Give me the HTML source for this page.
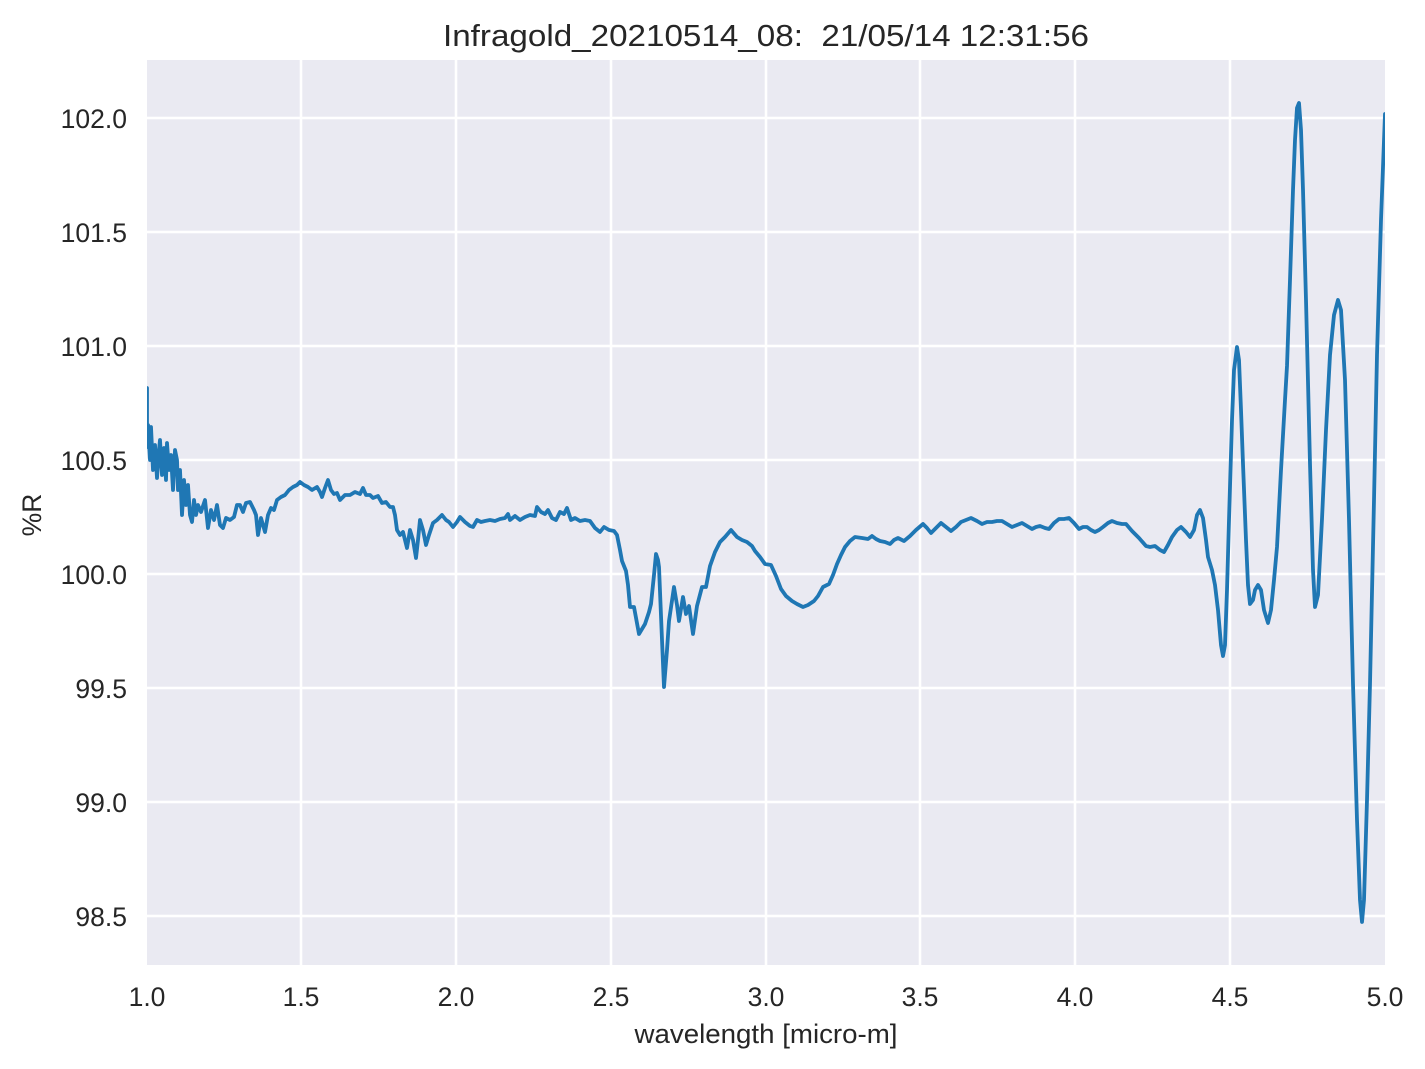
<!DOCTYPE html>
<html><head><meta charset="utf-8"><style>
html,body{margin:0;padding:0;background:#fff;}
svg{display:block;font-family:"Liberation Sans",Arial,sans-serif;}
</style></head><body>
<svg width="1425" height="1069" viewBox="0 0 1425 1069" xmlns="http://www.w3.org/2000/svg">
<rect x="147" y="60" width="1238" height="905" fill="#eaeaf2"/>
<g stroke="#fff" stroke-width="2.6">
<line x1="147" y1="118" x2="1385" y2="118"/><line x1="147" y1="232" x2="1385" y2="232"/>
<line x1="147" y1="346" x2="1385" y2="346"/><line x1="147" y1="460" x2="1385" y2="460"/>
<line x1="147" y1="574" x2="1385" y2="574"/><line x1="147" y1="688" x2="1385" y2="688"/>
<line x1="147" y1="802" x2="1385" y2="802"/><line x1="147" y1="916" x2="1385" y2="916"/>
<line x1="301" y1="60" x2="301" y2="965"/><line x1="456" y1="60" x2="456" y2="965"/>
<line x1="611" y1="60" x2="611" y2="965"/><line x1="766" y1="60" x2="766" y2="965"/>
<line x1="920" y1="60" x2="920" y2="965"/><line x1="1075" y1="60" x2="1075" y2="965"/>
<line x1="1230" y1="60" x2="1230" y2="965"/>
</g>
<svg x="147" y="60" width="1238" height="905" viewBox="147 60 1238 905" overflow="hidden">
<polyline fill="none" stroke="#1f77b4" stroke-width="3.8" stroke-linejoin="round" stroke-linecap="round" points="
147,388 147,447 148,425 150,460 151,427 153,470 155,445 157,478 159,450 160,440 162,475 164,448 166,480 167,443 169,470 171,455 173,490 175,450 177,460 178,490 180,470 182,515 184,480 186,505 188,485 190,515 192,522 194,500 196,515 198,505 201,512 205,500 208,528 211,510 214,520 217,505 220,525 223,528 226,518 230,520 234,517 237,505 240,505 243,512 246,503 250,502 254,510 256,515 258,535 261,518 263,525 265,532 268,515 271,508 274,510 277,500 281,497 285,495 289,490 293,487 297,485 300,482 304,485 308,487 312,490 317,487 320,492 322,497 325,488 328,480 331,490 334,494 337,493 340,500 345,495 350,495 355,492 360,494 363,488 366,495 370,495 373,498 378,496 382,503 386,502 390,507 393,507 395,515 397,530 400,535 403,532 405,540 407,548 410,530 413,540 416,558 418,540 420,520 423,530 426,545 429,535 433,523 437,520 442,515 446,520 449,522 453,527 457,522 460,517 465,522 470,526 473,527 477,520 481,522 485,521 490,520 495,521 500,519 505,518 508,514 510,520 515,516 520,520 525,517 530,515 535,516 537,507 541,512 545,514 548,510 552,518 556,520 560,512 564,514 567,508 571,520 575,518 580,521 585,520 590,521 595,528 600,532 604,527 609,530 614,531 617,535 620,550 622,561 626,571 628,585 630,607 634,607 639,634 645,624 649,612 651,604 654,575 656,554 658,560 659,567 662,640 664,687 667,650 669,621 674,587 677,605 679,621 683,597 686,614 689,606 693,634 697,606 702,587 706,587 710,566 715,552 720,542 725,537 731,530 737,537 742,540 747,542 752,546 755,551 760,557 765,564 771,565 776,576 781,589 786,596 792,601 797,604 803,607 808,605 814,601 818,596 823,587 829,584 833,575 837,564 841,555 845,547 850,541 855,537 862,538 868,539 872,536 876,539 880,541 885,542 890,544 894,540 898,538 904,541 910,536 916,530 923,524 927,528 931,533 936,528 941,523 946,527 951,531 956,527 961,522 966,520 971,518 977,521 982,524 987,522 992,522 997,521 1002,521 1007,524 1012,527 1017,525 1022,523 1027,526 1032,529 1036,527 1040,526 1045,528 1049,529 1054,523 1059,519 1064,519 1069,518 1074,523 1079,529 1083,527 1087,527 1091,530 1095,532 1099,530 1103,527 1108,523 1112,521 1117,523 1122,524 1126,524 1132,531 1139,538 1146,546 1150,547 1155,546 1160,550 1164,552 1168,545 1172,537 1177,530 1181,527 1186,532 1190,537 1194,530 1197,515 1200,510 1203,518 1206,540 1208,557 1212,570 1215,585 1218,610 1221,645 1223,656 1225,645 1227,590 1229,520 1232,420 1234,370 1237,347 1239,360 1241,410 1243,464 1246,540 1248,585 1250,604 1253,600 1255,590 1258,585 1261,590 1264,610 1268,623 1271,610 1274,580 1277,547 1281,470 1285,400 1287,366 1290,280 1293,190 1295,140 1297,108 1299,103 1301,130 1303,190 1306,300 1310,464 1313,570 1315,607 1318,595 1322,519 1326,430 1330,355 1334,315 1338,300 1341,310 1345,380 1349,520 1353,684 1357,820 1360,900 1362,922 1364,900 1367,800 1370,684 1374,500 1377,355 1381,220 1385,114"/>
</svg>
<g fill="#262626" font-size="26.5" text-anchor="end">
<text x="127" y="128">102.0</text><text x="127" y="242">101.5</text>
<text x="127" y="356">101.0</text><text x="127" y="470">100.5</text>
<text x="127" y="584">100.0</text><text x="127" y="698">99.5</text>
<text x="127" y="812">99.0</text><text x="127" y="926">98.5</text>
</g>
<g fill="#262626" font-size="26.5" text-anchor="middle">
<text x="147" y="1006">1.0</text><text x="301" y="1006">1.5</text><text x="456" y="1006">2.0</text>
<text x="611" y="1006">2.5</text><text x="766" y="1006">3.0</text><text x="920" y="1006">3.5</text>
<text x="1075" y="1006">4.0</text><text x="1230" y="1006">4.5</text><text x="1385" y="1006">5.0</text>
<text x="766" y="1043" font-size="26.5" textLength="263" lengthAdjust="spacingAndGlyphs">wavelength [micro-m]</text>
<text x="766" y="46" font-size="31" style="white-space:pre" textLength="646" lengthAdjust="spacingAndGlyphs">Infragold_20210514_08:  21/05/14 12:31:56</text>
<text transform="translate(41,515) rotate(-90)" font-size="26.5">%R</text>
</g>
</svg>
</body></html>
